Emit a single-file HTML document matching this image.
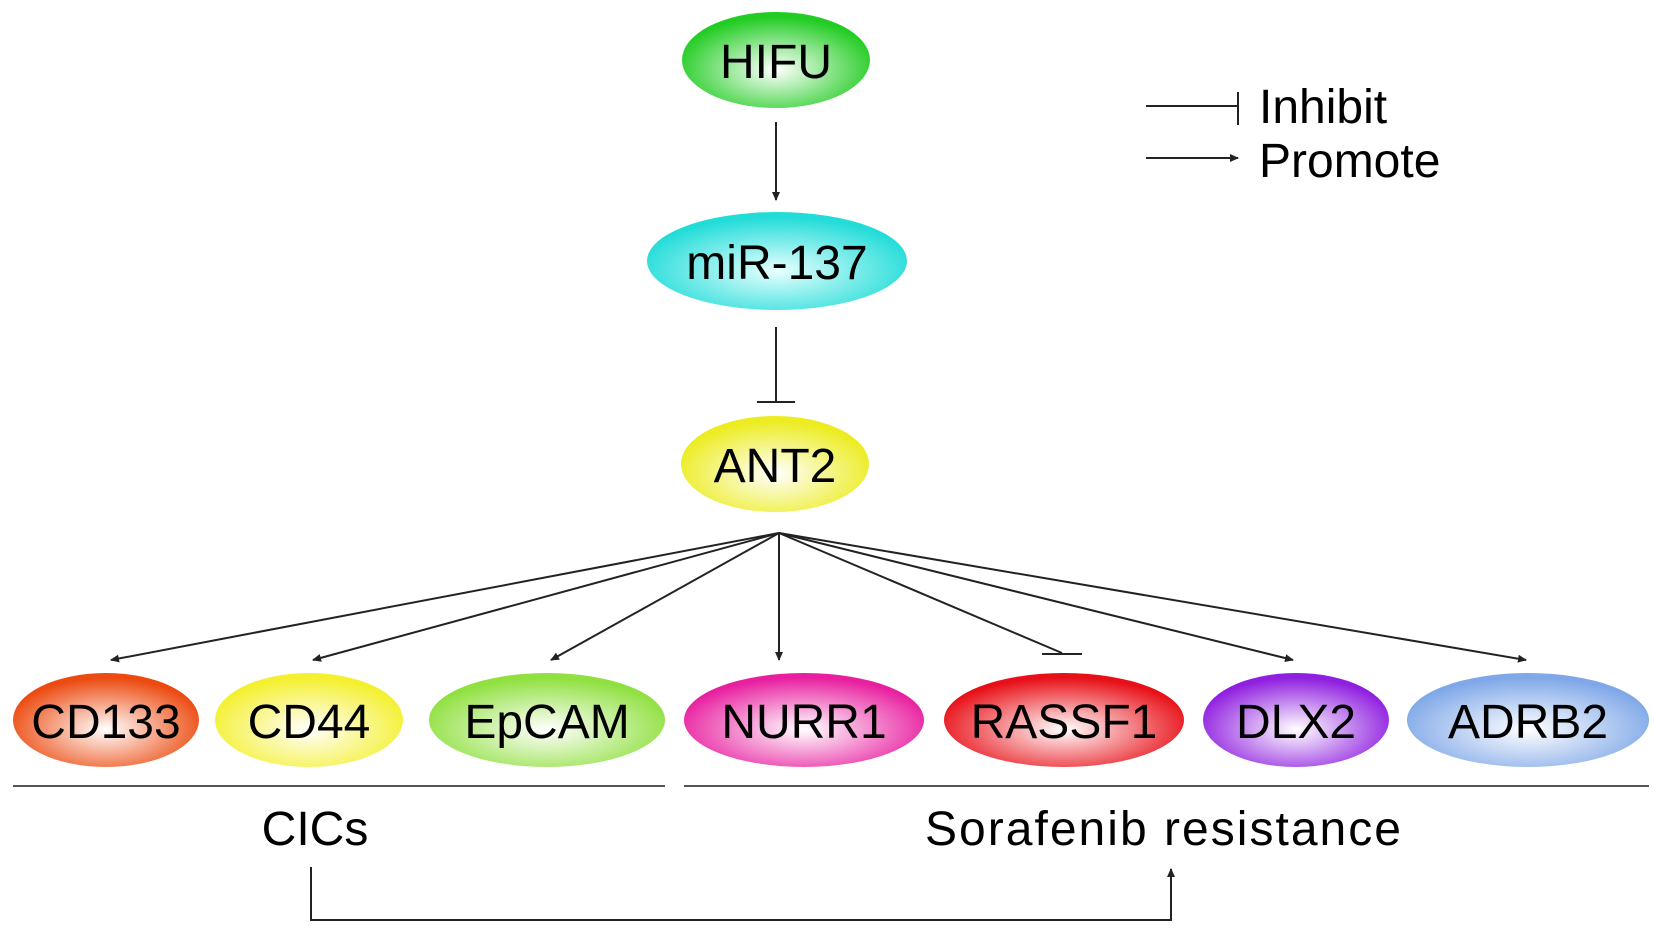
<!DOCTYPE html>
<html><head><meta charset="utf-8"><style>html,body{margin:0;padding:0;background:#fff}svg{display:block}</style></head>
<body>
<svg width="1654" height="933" viewBox="0 0 1654 933" xmlns="http://www.w3.org/2000/svg" font-family="Liberation Sans, Arial, sans-serif">
<defs>
<marker id="a" markerWidth="10" markerHeight="10" refX="8" refY="5" orient="auto" markerUnits="userSpaceOnUse"><path d="M0,1 L9,5 L0,9 Z" fill="#222"/></marker>
<radialGradient id="g1" cx="50%" cy="60%" r="55%"><stop offset="0" stop-color="#fff"/><stop offset="1" stop-color="#22cc22"/></radialGradient>
<radialGradient id="g2" cx="50%" cy="60%" r="55%"><stop offset="0" stop-color="#e8ffff"/><stop offset="1" stop-color="#22dcd8"/></radialGradient>
<radialGradient id="g3" cx="50%" cy="60%" r="55%"><stop offset="0" stop-color="#fff"/><stop offset="1" stop-color="#ecec20"/></radialGradient>
<radialGradient id="c1" cx="50%" cy="60%" r="55%"><stop offset="0" stop-color="#fff"/><stop offset="1" stop-color="#ec4a10"/></radialGradient>
<radialGradient id="c2" cx="50%" cy="60%" r="55%"><stop offset="0" stop-color="#fff"/><stop offset="1" stop-color="#f4f030"/></radialGradient>
<radialGradient id="c3" cx="50%" cy="60%" r="55%"><stop offset="0" stop-color="#fff"/><stop offset="1" stop-color="#90e040"/></radialGradient>
<radialGradient id="c4" cx="50%" cy="60%" r="55%"><stop offset="0" stop-color="#fff"/><stop offset="1" stop-color="#e820a0"/></radialGradient>
<radialGradient id="c5" cx="50%" cy="60%" r="55%"><stop offset="0" stop-color="#fff"/><stop offset="1" stop-color="#e81018"/></radialGradient>
<radialGradient id="c6" cx="50%" cy="60%" r="55%"><stop offset="0" stop-color="#fff"/><stop offset="1" stop-color="#9020e0"/></radialGradient>
<radialGradient id="c7" cx="50%" cy="60%" r="55%"><stop offset="0" stop-color="#fff"/><stop offset="1" stop-color="#80a8e8"/></radialGradient>
</defs>
<g font-size="48" text-anchor="middle" fill="#000">
<ellipse cx="776" cy="60" rx="94" ry="48" fill="url(#g1)"/><text x="776" y="78">HIFU</text>
<ellipse cx="777" cy="261" rx="130" ry="49" fill="url(#g2)"/><text x="777" y="279">miR-137</text>
<ellipse cx="775" cy="464" rx="94" ry="48" fill="url(#g3)"/><text x="775" y="482">ANT2</text>
<ellipse cx="106" cy="720" rx="93" ry="47" fill="url(#c1)"/><text x="106" y="738">CD133</text>
<ellipse cx="309" cy="720" rx="94" ry="47" fill="url(#c2)"/><text x="309" y="738">CD44</text>
<ellipse cx="547" cy="720" rx="118" ry="47" fill="url(#c3)"/><text x="547" y="738">EpCAM</text>
<ellipse cx="804" cy="720" rx="120" ry="47" fill="url(#c4)"/><text x="804" y="738">NURR1</text>
<ellipse cx="1064" cy="720" rx="120" ry="47" fill="url(#c5)"/><text x="1064" y="738">RASSF1</text>
<ellipse cx="1296" cy="720" rx="93" ry="47" fill="url(#c6)"/><text x="1296" y="738">DLX2</text>
<ellipse cx="1528" cy="720" rx="121" ry="47" fill="url(#c7)"/><text x="1528" y="738">ADRB2</text>
</g>
<g stroke="#222" stroke-width="2" fill="none">
<line x1="776" y1="122" x2="776" y2="200" marker-end="url(#a)"/>
<line x1="776" y1="327" x2="776" y2="402"/><line x1="757" y1="402" x2="795" y2="402"/>
<line x1="779" y1="533" x2="111" y2="660" marker-end="url(#a)"/>
<line x1="779" y1="533" x2="313" y2="660" marker-end="url(#a)"/>
<line x1="779" y1="533" x2="551" y2="660" marker-end="url(#a)"/>
<line x1="779" y1="533" x2="779" y2="660" marker-end="url(#a)"/>
<line x1="779" y1="533" x2="1062" y2="653"/><line x1="1042" y1="654" x2="1082" y2="654"/>
<line x1="779" y1="533" x2="1293" y2="660" marker-end="url(#a)"/>
<line x1="779" y1="533" x2="1526" y2="660" marker-end="url(#a)"/>
<line x1="1146" y1="106" x2="1238" y2="106"/><line x1="1238" y1="92" x2="1238" y2="125"/>
<line x1="1146" y1="158" x2="1238" y2="158" marker-end="url(#a)"/>
<line x1="13" y1="786" x2="665" y2="786" stroke="#555"/>
<line x1="684" y1="786" x2="1649" y2="786" stroke="#555"/>
<polyline points="311,867 311,920 1171,920 1171,869" marker-end="url(#a)"/>
</g>
<g font-size="48" fill="#000">
<text x="1259" y="123">Inhibit</text>
<text x="1259" y="177">Promote</text>
<text x="315" y="845" text-anchor="middle">CICs</text>
<text x="1163" y="845" text-anchor="middle" textLength="476">Sorafenib resistance</text>
</g>
</svg>
</body></html>
